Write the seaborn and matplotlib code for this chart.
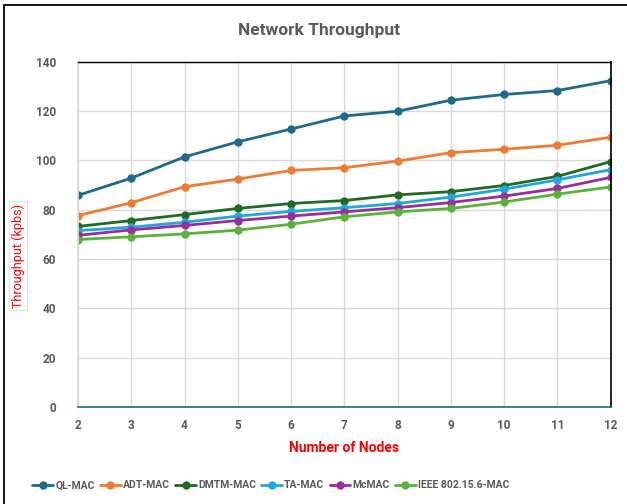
import matplotlib
matplotlib.use("Agg")
import matplotlib.pyplot as plt
import matplotlib.patches as mpatches
import seaborn as sns
import pandas as pd

nodes = [2, 3, 4, 5, 6, 7, 8, 9, 10, 11, 12]
ql_mac = [85.8, 92.8, 101.4, 107.5, 112.7, 118.0, 119.9, 124.4, 126.7, 128.3, 132.3]
adt_mac = [77.6, 82.8, 89.3, 92.4, 95.9, 97.0, 99.7, 103.1, 104.5, 106.1, 109.4]
dmtm_mac = [73.2, 75.6, 78.0, 80.5, 82.5, 83.7, 86.0, 87.3, 89.8, 93.5, 99.5]
ta_mac = [71.5, 72.9, 74.9, 77.4, 79.3, 80.8, 82.5, 85.1, 88.3, 92.1, 96.2]
mcmac = [69.6, 71.8, 73.6, 75.6, 77.4, 79.1, 80.8, 82.9, 85.5, 88.6, 93.1]
ieee_mac = [67.9, 69.0, 70.2, 71.7, 74.1, 77.1, 79.1, 80.5, 83.1, 86.3, 89.2]

series_names = ["QL-MAC", "ADT-MAC", "DMTM-MAC", "TA-MAC", "McMAC", "IEEE 802.15.6-MAC"]
series_values = [ql_mac, adt_mac, dmtm_mac, ta_mac, mcmac, ieee_mac]
colors = ["#1D6A8C", "#F07B32", "#1F6B22", "#1FA7E0", "#9B2C9E", "#58B33A"]
y_ticks = [0, 20, 40, 60, 80, 100, 120, 140]

df = pd.concat(
    [pd.DataFrame({"Nodes": nodes, "Throughput": vals, "Protocol": name})
     for name, vals in zip(series_names, series_values)],
    ignore_index=True,
)

sns.set_theme(style="white")
plt.rcParams["font.family"] = ["Roboto", "DejaVu Sans"]

fig = plt.figure(figsize=(6.27, 5.04), dpi=100)
ax = fig.add_axes([0.1244, 0.1925, 0.8496, 0.6851])

sns.lineplot(
    data=df, x="Nodes", y="Throughput", hue="Protocol",
    hue_order=series_names, palette=colors,
    marker="o", markersize=6, markeredgewidth=0, linewidth=2.0,
    ax=ax, legend=True,
)

ax.set_xlim(2, 12)
ax.set_ylim(0, 140)
ax.set_xticks(nodes)
ax.set_yticks(y_ticks)
ax.grid(True, color="#D9D9D9", linewidth=1.0)
ax.set_axisbelow(True)

for lab in ax.get_xticklabels() + ax.get_yticklabels():
    lab.set_fontweight("bold")
    lab.set_color("#595959")
    lab.set_fontsize(8.5)
ax.tick_params(axis="x", length=0, pad=9)
ax.tick_params(axis="y", length=0, pad=16)

ax.spines["top"].set_color("black")
ax.spines["top"].set_linewidth(1.0)
ax.spines["right"].set_color("black")
ax.spines["right"].set_linewidth(1.2)
ax.spines["left"].set_color("#D9D9D9")
ax.spines["bottom"].set_color("#1D6A8C")
ax.spines["bottom"].set_linewidth(1.2)

ax.set_xlabel("Number of Nodes", color="red", fontweight="bold", fontsize=10, labelpad=6)
ax.set_ylabel("")

fig.text(0.029, 0.493, "Throughput (kpbs)", color="red", fontsize=9,
         rotation=90, ha="center", va="center",
         bbox=dict(facecolor="white", edgecolor="#E3E3E3", linewidth=0.8, pad=1.5))

fig.text(0.508, 0.940, "Network Throughput", color="#595959", fontsize=12.5,
         fontweight="bold", ha="center", va="center")

handles, labels = ax.get_legend_handles_labels()
ax.legend_.remove()
leg = fig.legend(handles, labels, loc="center", bbox_to_anchor=(0.432, 0.037),
                 ncol=6, frameon=False, fontsize=7.5, handlelength=2.0,
                 handletextpad=0.2, columnspacing=0.5)
for t in leg.get_texts():
    t.set_color("#595959")
    t.set_fontweight("bold")

fig.patches.append(mpatches.Rectangle((0.006, -0.05), 1.2, 1.04, transform=fig.transFigure,
                                      fill=False, edgecolor="black", linewidth=1.3))

fig.savefig("out.png", dpi=100)
